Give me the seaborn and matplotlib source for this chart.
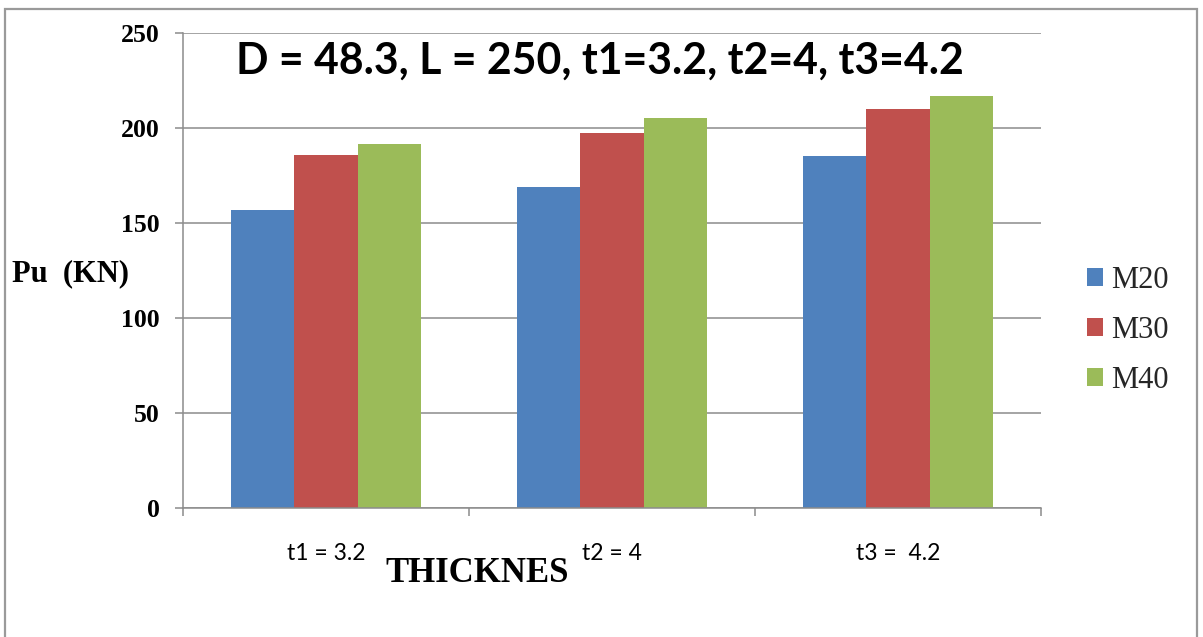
import matplotlib
matplotlib.use("Agg")
import matplotlib.pyplot as plt
from matplotlib.patches import Rectangle, Patch
from matplotlib.ticker import FixedLocator, NullFormatter
import pandas as pd
import seaborn as sns

# Ultimate load Pu (kN) for each tube thickness and concrete grade
thickness = ["t1 = 3.2", "t2 = 4", "t3 =  4.2"]
grades = ["M20", "M30", "M40"]
m20 = [157, 169, 185]
m30 = [185.5, 197.5, 210]
m40 = [191.5, 205, 216.5]
colors = ["#4F81BD", "#C0504D", "#9BBB59"]
y_ticks = [0, 50, 100, 150, 200, 250]

df = pd.DataFrame({
    "thickness": thickness * 3,
    "grade": [g for g in grades for _ in thickness],
    "Pu": m20 + m30 + m40,
})

sns.set_theme(style="white")
W, H = 1203, 637
fig = plt.figure(figsize=(W / 100, H / 100), dpi=100)
fig.patch.set_facecolor("white")

left, right, top, bottom = 183, 1041, 32.7, 508
ax = fig.add_axes([left / W, 1 - bottom / H, (right - left) / W, (bottom - top) / H])

sns.barplot(data=df, x="thickness", y="Pu", hue="grade", order=thickness,
            hue_order=grades, palette=colors, saturation=1, width=2 / 3,
            gap=0, edgecolor="none", linewidth=0, legend=False, ax=ax)

ax.set_xlim(-0.5, len(thickness) - 0.5)
ax.set_ylim(0, 250)
ax.set_yticks(y_ticks)
ax.yaxis.grid(True, color="#8c8c8c", linewidth=1.1)
ax.set_axisbelow(True)

for side in ("top", "right"):
    ax.spines[side].set_visible(False)
for side in ("left", "bottom"):
    ax.spines[side].set_color("#8c8c8c")
    ax.spines[side].set_linewidth(1.1)

serif_bold = dict(family="Liberation Serif", weight="bold")
ax.tick_params(axis="y", direction="out", length=6, width=1.1, color="#8c8c8c",
               pad=11, left=True)
for lab in ax.get_yticklabels():
    lab.set_fontproperties(matplotlib.font_manager.FontProperties(**serif_bold, size=18.5))
    lab.set_color("black")

# category labels centred, tick marks on category boundaries
ax.tick_params(axis="x", which="major", length=0, pad=25)
ax.set_xticks(range(len(thickness)))
ax.set_xticklabels(thickness, family="Lato", fontsize=16.5, color="black")
ax.xaxis.set_minor_locator(FixedLocator([i - 0.5 for i in range(len(thickness) + 1)]))
ax.xaxis.set_minor_formatter(NullFormatter())
ax.tick_params(axis="x", which="minor", direction="out", length=6, width=1.1,
               color="#8c8c8c", bottom=True)
ax.set_xlabel("")
ax.set_ylabel("")

fig.text(600 / W, 1 - 61 / H, "D = 48.3, L = 250, t1=3.2, t2=4, t3=4.2",
         ha="center", va="center", family="Lato", weight="bold", fontsize=30.8,
         color="black")
fig.text(12 / W, 1 - 274 / H, "Pu  (KN)", ha="left", va="center",
         fontsize=22, **serif_bold, color="black")
fig.text(477 / W, 1 - 574 / H, "THICKNES", ha="center", va="center",
         fontsize=25, **serif_bold, color="black")

handles = [Patch(facecolor=c, edgecolor="none", label=g) for c, g in zip(colors, grades)]
fig.legend(handles=handles, loc="upper left", bbox_to_anchor=(1087 / W, 1 - 266 / H),
           frameon=False, prop=dict(family="Liberation Serif", size=22),
           handlelength=0.52, handleheight=0.52, handletextpad=0.26, labelspacing=0.69,
           borderpad=0, borderaxespad=0)

fig.add_artist(Rectangle((5 / W, -0.05), 1192 / W, 1.05 - 9 / H,
                         transform=fig.transFigure, fill=False,
                         edgecolor="#9a9a9a", linewidth=1.6))

fig.savefig("out.png", dpi=100)
